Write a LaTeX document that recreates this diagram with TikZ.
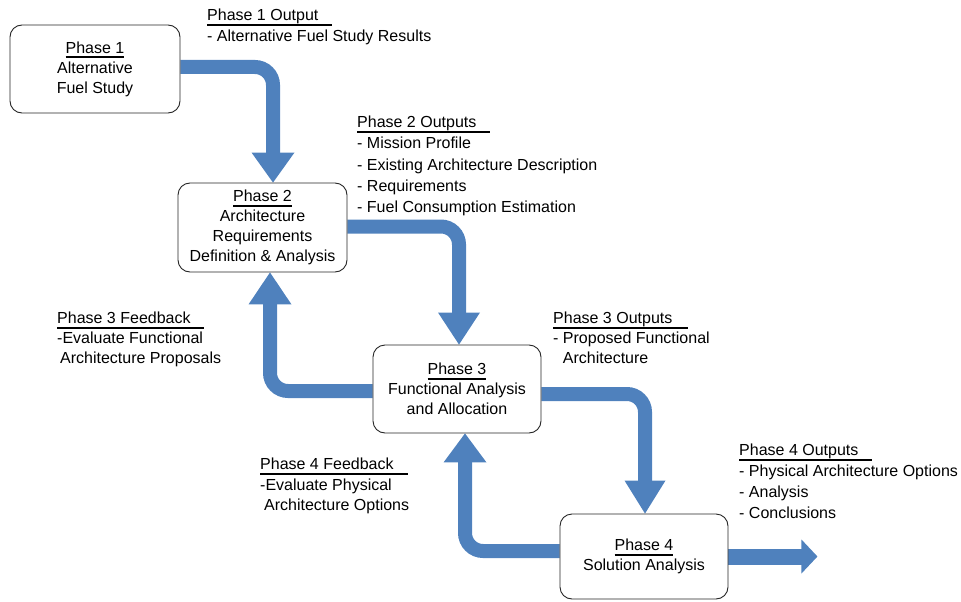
\documentclass[tikz,border=0pt]{standalone}
\usepackage{fontspec}
\setmainfont{Liberation Sans}
\usetikzlibrary{calc}
\definecolor{arrblue}{HTML}{4F81BD}
\pgfdeclarelayer{background}
\pgfsetlayers{background,main}
\newcommand\tul[1]{\sbox0{#1}\rlap{\rule[-5pt]{\wd0}{2pt}}\usebox0}
\newcommand\hul[2]{\rlap{\rule[-5pt]{#1pt}{2pt}}#2}
\begin{document}
\begin{tikzpicture}[x=1pt,y=-1pt,
  box/.style={draw=black!85, line width=0.9pt, rounded corners=12pt, fill=white,
    align=center, font=\fontsize{16}{20}\selectfont, inner sep=0pt},
  shaft/.style={draw=arrblue, line width=14pt, rounded corners=18pt},
  head/.style={fill=arrblue},
  lbl/.style={anchor=north west, align=left, inner sep=0pt,
    font=\fontsize{16}{20.8}\selectfont}]
\useasboundingbox (0,0) rectangle (961,602);

% boxes
\node[box, minimum width=170pt, minimum height=88pt] (p1) at (95,69)
  {\tul{Phase 1}\\Alternative\\Fuel Study};
\node[box, minimum width=169pt, minimum height=89pt] (p2) at (262.5,227.5)
  {\tul{Phase 2}\\Architecture\\Requirements\\Definition \& Analysis};
\node[box, minimum width=168pt, minimum height=88pt] (p3) at (457,389)
  {\tul{Phase 3}\\Functional Analysis\\and Allocation};
\node[box, minimum width=168pt, minimum height=85pt] (p4) at (644,556.5)
  {\tul{Phase 4}\\Solution Analysis};

% arrow end points
\coordinate (a1) at ($(p1.east)+(0,-2)$);
\coordinate (tA) at ($(p2.north)+(10.5,0)$);
\coordinate (b1) at ($(p2.east)+(0,-1)$);
\coordinate (tB) at ($(p3.north)+(2,0)$);
\coordinate (c1) at ($(p3.west)+(0,2)$);
\coordinate (tC) at ($(p2.south)+(7.5,0)$);
\coordinate (d1) at ($(p3.east)+(0,5)$);
\coordinate (tD) at ($(p4.north)+(1,0)$);
\coordinate (e1) at ($(p4.west)+(0,-5.5)$);
\coordinate (tE) at ($(p3.south)+(8,0)$);
\coordinate (f1) at (p4.east);
\coordinate (tF) at ($(p4.east)+(89,0)$);

\begin{pgfonlayer}{background}
  % A: Phase 1 -> Phase 2
  \draw[shaft] (a1) -| ($(tA)+(0,-28)$);
  \fill[head] (tA) -- ++(-21.5,-30) -- ++(43,0) -- cycle;
  % B: Phase 2 -> Phase 3
  \draw[shaft] (b1) -| ($(tB)+(0,-30)$);
  \fill[head] (tB) -- ++(-21,-32) -- ++(42,0) -- cycle;
  % C: Phase 3 -> Phase 2 (feedback)
  \draw[shaft] (c1) -| ($(tC)+(0,30)$);
  \fill[head] (tC) -- ++(-21.5,32) -- ++(43,0) -- cycle;
  % D: Phase 3 -> Phase 4
  \draw[shaft] (d1) -| ($(tD)+(0,-31)$);
  \fill[head] (tD) -- ++(-20.5,-33) -- ++(41,0) -- cycle;
  % E: Phase 4 -> Phase 3 (feedback)
  \draw[shaft] (e1) -| ($(tE)+(0,27)$);
  \fill[head] (tE) -- ++(-21.5,29) -- ++(43,0) -- cycle;
  % F: Phase 4 output
  \draw[draw=arrblue, line width=16pt] (f1) -- ($(tF)+(-14,0)$);
  \fill[head] (tF) -- ++(-16,-17) -- ++(0,34) -- cycle;
\end{pgfonlayer}

% labels
\node[lbl] (h1) at (207,9)
  {\hul{125}{Phase 1 Output}\\- Alternative Fuel Study Results};
\node[lbl, font=\fontsize{16}{21.2}\selectfont] (h2) at (357,116)
  {\hul{133}{Phase 2 Outputs}\\- Mission Profile\\- Existing Architecture Description\\- Requirements\\- Fuel Consumption Estimation};
\node[lbl, font=\fontsize{16}{20}\selectfont] (h3f) at (57,312)
  {\hul{147}{Phase 3 Feedback}\\-Evaluate Functional\\\hspace*{3pt}Architecture Proposals};
\node[lbl, font=\fontsize{16}{20}\selectfont] (h3o) at (553,312)
  {\hul{135}{Phase 3 Outputs}\\- Proposed Functional\\\phantom{- }Architecture};
\node[lbl, font=\fontsize{16}{20.5}\selectfont] (h4f) at (260,458)
  {\hul{148}{Phase 4 Feedback}\\-Evaluate Physical\\\hspace*{4pt}Architecture Options};
\node[lbl, font=\fontsize{16}{21}\selectfont] (h4o) at (739,444)
  {\hul{133}{Phase 4 Outputs}\\- Physical Architecture Options\\- Analysis\\- Conclusions};
\end{tikzpicture}
\end{document}
